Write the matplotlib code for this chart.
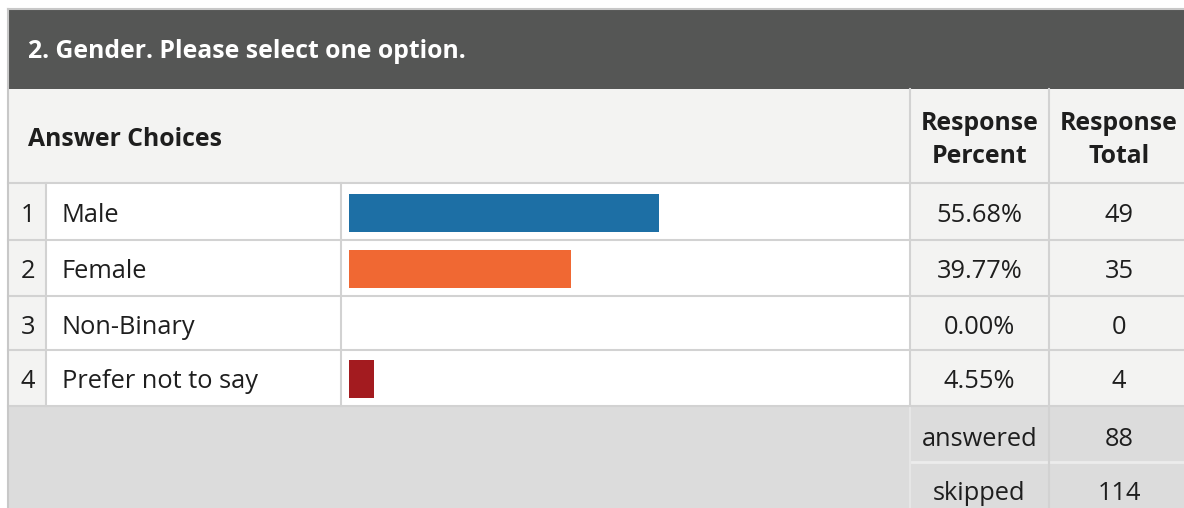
import matplotlib
matplotlib.use("Agg")
import matplotlib.pyplot as plt
from matplotlib.patches import Rectangle

plt.rcParams['font.family'] = ['Open Sans', 'DejaVu Sans']

title = "2. Gender. Please select one option."
choices = ["Male", "Female", "Non-Binary", "Prefer not to say"]
percents = [55.68, 39.77, 0.00, 4.55]
totals = [49, 35, 0, 4]
bar_colors = ["#1d6fa5", "#f06833", "#d0d0d0", "#a31b1f"]
answered = 88
skipped = 114

W, H = 1184, 508
fig = plt.figure(figsize=(W / 100, H / 100), dpi=100)
ax = fig.add_axes([0, 0, 1, 1])
ax.set_xlim(0, W)
ax.set_ylim(H, 0)
ax.axis("off")

grid = "#d2d2d2"
light = "#f3f3f2"
footer = "#dcdcdc"
txt = "#1e1e1e"
fs_b = 17.8   # bold headers
fs = 18.3     # body text

# column / row edges in pixels
x0, xn, xl, xb, xp, xt = 8, 46, 341, 910, 1049, 1189
y_top, y_head, y_rows0 = 9, 89, 183
row_h = [57, 56, 54, 56]
y_foot = 406
dy = 4  # text baseline nudge
xc_p = (xb + xp) / 2
xc_t = 1119

def rect(x, y, w, h, fc):
    ax.add_patch(Rectangle((x, y), w, h, facecolor=fc, edgecolor="none"))

# title band
rect(x0, y_top, W, y_head - y_top, "#555655")
ax.text(28, 52, title, color="white", fontsize=fs_b, fontweight="bold", va="center", ha="left")

# header row
rect(x0, y_head, W, y_rows0 - y_head, light)
ax.text(28, 139, "Answer Choices", color=txt, fontsize=fs_b, fontweight="bold", va="center")
ax.text(xc_p, 140, "Response\nPercent", color=txt, fontsize=fs_b, fontweight="bold",
        va="center", ha="center", linespacing=1.45)
ax.text(xc_t, 140, "Response\nTotal", color=txt, fontsize=fs_b, fontweight="bold",
        va="center", ha="center", linespacing=1.45)

# data rows
ys = []
y = y_rows0
for i, h in enumerate(row_h):
    rect(x0, y, xn - x0, h, light)
    rect(xn, y, xb - xn, h, "white")
    rect(xb, y, W - xb, h, light)
    cy = y + h / 2 + dy
    ys.append((y, h))
    ax.text((x0 + xn) / 2 + 1, cy, str(i + 1), color=txt, fontsize=fs, va="center", ha="center")
    ax.text(62, cy, choices[i], color=txt, fontsize=fs, va="center", ha="left")
    ax.text(xc_p, cy, f"{percents[i]:.2f}%", color=txt, fontsize=fs, va="center", ha="center")
    ax.text(xc_t, cy, str(totals[i]), color=txt, fontsize=fs, va="center", ha="center")
    ax.plot([x0, W], [y, y], color=grid, lw=1.5)
    y += h
ax.plot([x0, W], [y, y], color=grid, lw=1.5)

# footer
rect(x0, y_foot, W, H - y_foot, footer)
ax.text(xc_p, 439, "answered", color=txt, fontsize=fs, va="center", ha="center")
ax.text(xc_t, 439, str(answered), color=txt, fontsize=fs, va="center", ha="center")
ax.text(xc_p, 494, "skipped", color=txt, fontsize=fs, va="center", ha="center")
ax.text(xc_t, 494, str(skipped), color=txt, fontsize=fs, va="center", ha="center")
ax.plot([xb, W], [462, 462], color="#ececec", lw=2)

# vertical lines
ax.plot([xb, xb], [y_foot, H], color="#e6e6e6", lw=1.5)
for xv, ya, yb in [(xb, y_head, y_foot), (xp, y_head, H), (xn, y_rows0, y_foot), (xl, y_rows0, y_foot)]:
    ax.plot([xv, xv], [ya, yb], color=grid, lw=1.5)
ax.plot([x0, x0], [y_top, H], color="#c8c8c8", lw=1.5)
ax.plot([x0, W], [y_top, y_top], color="#c8c8c8", lw=1.5)

# bar axes over the bar column: 0-100% spans x 349..906
bx0, bx1 = 349, 906
bax = fig.add_axes([bx0 / W, 1 - y_foot / H, (bx1 - bx0) / W, (y_foot - y_rows0) / H])
bax.set_xlim(0, 100)
bax.set_ylim(y_foot, y_rows0)
bax.axis("off")
bax.patch.set_alpha(0)
centers = [yy + hh / 2 + 1 for yy, hh in ys]
bax.barh(centers, percents, height=38, color=bar_colors, left=0)

fig.savefig("out.png", dpi=100)
